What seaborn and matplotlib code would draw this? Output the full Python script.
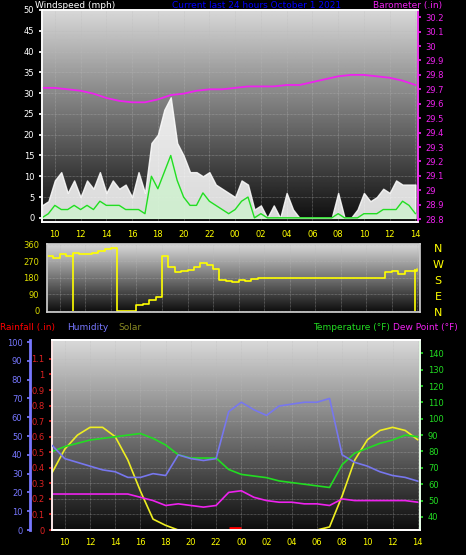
import numpy as np
import pandas as pd
import matplotlib
matplotlib.use("Agg")
import matplotlib.pyplot as plt
import seaborn as sns

sns.set_theme(style="dark")
plt.rcParams["font.family"] = ["DejaVu Sans"]

# ---- datos (horas desde las 09:00 del dia anterior, 24 = medianoche) ----
horas_viento = np.arange(9, 38.01, 0.5)
rafaga = [3, 4, 9, 11, 6, 9, 5, 9, 7, 11, 6, 9, 7, 8, 5, 11, 6, 18, 20, 26, 29, 18, 15, 11, 11, 10,
          11, 8, 7, 6, 5, 9, 8, 2, 3, 0, 3, 0, 6, 2, 0, 0, 0, 0, 0, 0, 6, 0, 0, 2, 6, 4, 5, 7, 6, 9, 8, 8, 8]
viento_medio = [0, 1, 3, 2, 2, 3, 2, 3, 2, 4, 3, 3, 3, 2, 2, 2, 1, 10, 7, 11, 15, 9, 5, 3, 3, 6,
                4, 3, 2, 1, 2, 4, 5, 0, 1, 0, 0, 0, 0, 0, 0, 0, 0, 0, 0, 0, 1, 0, 0, 0, 1, 1, 1, 2, 2, 2, 4, 3, 1]
direccion = [300, 290, 310, 300, 315, 310, 310, 315, 325, 340, 345, 0, 0, 0, 30, 40, 60, 75, 300,
             240, 210, 215, 225, 240, 260, 250, 230, 170, 165, 160, 170, 165, 175, 180, 180, 180, 180,
             180, 180, 180, 180, 180, 180, 180, 180, 180, 180, 180, 180, 180, 180, 180, 180, 210, 220,
             200, 215, 220, 230]
picos_dir = [11.0, 37.8]

horas = np.arange(9, 39)
barometro = [29.71, 29.71, 29.70, 29.69, 29.67, 29.64, 29.62, 29.61, 29.61, 29.63, 29.66, 29.67,
             29.69, 29.70, 29.70, 29.71, 29.72, 29.72, 29.72, 29.73, 29.73, 29.75, 29.77, 29.79,
             29.80, 29.80, 29.79, 29.78, 29.76, 29.73]
temperatura = [80, 83, 85, 87, 88, 89, 90, 91, 88, 84, 78, 76, 76, 76, 69, 66, 65, 64, 62, 61, 60,
               59, 58, 72, 79, 82, 85, 87, 90, 89]
punto_rocio = [54, 54, 54, 54, 54, 54, 54, 52, 50, 47, 48, 47, 46, 47, 55, 56, 52, 50, 49, 49, 48,
               48, 47, 51, 50, 50, 50, 50, 50, 49]
humedad = [45, 38, 36, 34, 32, 31, 28, 28, 30, 29, 40, 38, 37, 38, 63, 68, 64, 61, 66, 67, 68, 68,
           70, 40, 36, 34, 31, 29, 28, 26]
solar = [0.37, 0.52, 0.61, 0.66, 0.66, 0.60, 0.45, 0.25, 0.07, 0.03, 0, 0, 0, 0, 0, 0, 0, 0, 0, 0,
         0, 0, 0.02, 0.22, 0.45, 0.58, 0.64, 0.66, 0.64, 0.58]
lluvia = [0] * 30
lluvia_evento = (23.0, 24.0, 0.01)

ticks_x = np.arange(10, 39, 2)
etiquetas_x = [f"{int(h) % 24:02d}" for h in ticks_x]

df_v = pd.DataFrame({"h": horas_viento, "rafaga": rafaga, "medio": viento_medio, "dir": direccion})
df_h = pd.DataFrame({"h": horas, "baro": barometro, "temp": temperatura, "rocio": punto_rocio,
                     "hum": humedad, "solar": solar, "lluvia": lluvia})

fig = plt.figure(figsize=(4.66, 5.55), dpi=100, facecolor="black")
grad = np.linspace(0.85, 0.05, 256).reshape(-1, 1)


def fondo(ax, xlim):
    ax.set_xlim(*xlim)
    ax.imshow(grad, cmap="gray", vmin=0, vmax=1, aspect="auto", extent=[0, 1, 0, 1],
              transform=ax.transAxes, zorder=0)
    ax.grid(True, color="#bbbbbb", lw=0.5, ls=(0, (1, 1)), alpha=0.6)
    ax.set_xticks(ticks_x)
    ax.set_xticklabels(etiquetas_x)
    ax.tick_params(axis="x", colors="yellow", labelsize=6, length=2)
    ax.tick_params(axis="y", labelsize=6, length=2)
    for s in ax.spines.values():
        s.set_color("#cccccc")


# ---- panel viento ----
ax1 = fig.add_axes([0.090, 0.600, 0.807, 0.382])
fondo(ax1, (9, 38.2))
ax1.fill_between(df_v["h"], df_v["rafaga"], color="white", alpha=0.85, zorder=2)
ax1.fill_between(df_v["h"], df_v["medio"], color="#ccf5cc", alpha=0.7, zorder=3)
sns.lineplot(data=df_v, x="h", y="medio", color="#22dd22", lw=1, ax=ax1, zorder=4)
ax1.set_ylim(-1, 50)
ax1.set_yticks(range(0, 51, 5))
ax1.tick_params(axis="y", colors="white")
ax1.set_xlabel("")
ax1.set_ylabel("")
ax1b = ax1.twinx()
sns.lineplot(data=df_h, x="h", y="baro", color="#ee22ee", lw=1.3, ax=ax1b)
ax1b.set_ylim(28.78, 30.25)
niveles_baro = np.round(np.arange(28.8, 30.25, 0.1), 1)
ax1b.set_yticks(niveles_baro)
ax1b.set_yticklabels([f"{v:g}" for v in niveles_baro])
ax1b.tick_params(axis="y", colors="#ee22ee", labelsize=6, length=2)
ax1b.set_ylabel("")
ax1b.spines["right"].set_color("#ee22ee")
fig.text(0.075, 0.998, "Windspeed (mph)", color="white", fontsize=6.5, va="top")
fig.text(0.37, 0.998, "Current last 24 hours October 1 2021", color="blue", fontsize=6.5, va="top")
fig.text(0.80, 0.998, "Barometer (.in)", color="#ee22ee", fontsize=6.5, va="top")

# ---- panel direccion ----
ax2 = fig.add_axes([0.101, 0.438, 0.800, 0.1225])
fondo(ax2, (9, 38.2))
sns.lineplot(data=df_v, x="h", y="dir", color="yellow", lw=1.2, ax=ax2, drawstyle="steps-post")
ax2.vlines(picos_dir, 0, [310, 230], color="yellow", lw=1.2)
ax2.set_ylim(-5, 365)
ax2.set_yticks([0, 90, 180, 270, 360])
ax2.tick_params(axis="y", colors="#dddd00")
ax2.tick_params(axis="x", labelbottom=False, bottom=False)
ax2.set_xlabel("")
ax2.set_ylabel("")
for i, c in enumerate(["N", "W", "S", "E", "N"]):
    fig.text(0.94, 0.552 - i * 0.029, c, color="yellow", fontsize=8, ha="center", va="center")

# ---- panel temperatura ----
ax3 = fig.add_axes([0.112, 0.045, 0.790, 0.342])
fondo(ax3, (9, 38.2))
ax3.set_ylim(0, 1.22)
niveles_lluvia = np.round(np.arange(0, 1.15, 0.1), 1)
ax3.set_yticks(niveles_lluvia)
ax3.set_yticklabels([f"{v:g}" for v in niveles_lluvia])
ax3.tick_params(axis="y", colors="#dd2222")
ax3.spines["left"].set_color("#dd2222")
sns.lineplot(data=df_h, x="h", y="solar", color="#eeee22", lw=1.2, ax=ax3, zorder=5)
sns.lineplot(data=df_h, x="h", y="lluvia", color="red", lw=2, ax=ax3, zorder=6)
ax3.hlines(lluvia_evento[2], lluvia_evento[0], lluvia_evento[1], color="red", lw=2, zorder=6)
ax3.set_xlabel("")
ax3.set_ylabel("")

ax3t = ax3.twinx()
sns.lineplot(data=df_h, x="h", y="temp", color="#22dd22", lw=1.2, ax=ax3t)
sns.lineplot(data=df_h, x="h", y="rocio", color="#ee22ee", lw=1.2, ax=ax3t)
ax3t.set_ylim(32, 148)
ax3t.set_yticks(range(40, 141, 10))
ax3t.tick_params(axis="y", colors="#22dd22", labelsize=6, length=2)
ax3t.spines["right"].set_color("#22dd22")
ax3t.set_ylabel("")

ax3h = ax3.twinx()
ax3h.spines["left"].set_position(("axes", -0.06))
ax3h.spines["left"].set_visible(True)
ax3h.spines["left"].set_color("#7777ff")
ax3h.spines["left"].set_linewidth(2)
ax3h.yaxis.set_ticks_position("left")
sns.lineplot(data=df_h, x="h", y="hum", color="#7777ee", lw=1.2, ax=ax3h)
ax3h.set_ylim(0, 101)
ax3h.set_yticks(range(0, 101, 10))
ax3h.tick_params(axis="y", colors="#7777ff", labelsize=6, length=2)
ax3h.set_ylabel("")
ax3.set_xlabel("")

fig.text(0.0, 0.410, "Rainfall (.in)", color="red", fontsize=6.5, va="center")
fig.text(0.143, 0.410, "Humidity", color="#7777ff", fontsize=6.5, va="center")
fig.text(0.253, 0.410, "Solar", color="#888822", fontsize=6.5, va="center")
fig.text(0.672, 0.410, "Temperature (°F)", color="#22dd22", fontsize=6.5, va="center")
fig.text(0.843, 0.410, "Dew Point (°F)", color="#ee22ee", fontsize=6.5, va="center")

fig.savefig("out.png", dpi=100, facecolor="black")
